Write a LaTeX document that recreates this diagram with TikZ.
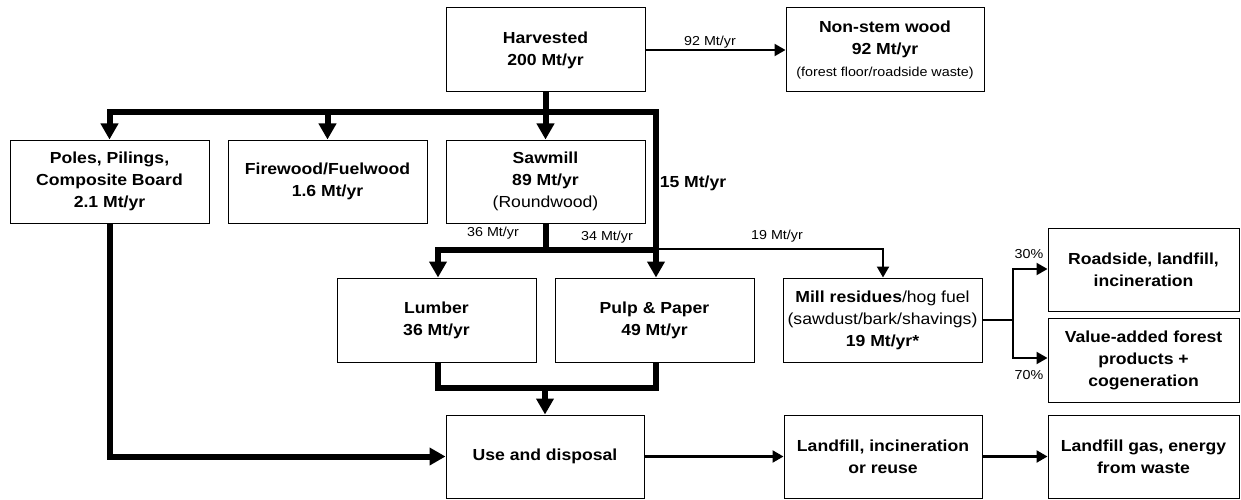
\documentclass[tikz,border=0pt]{standalone}
\usepackage{fontspec}
\setmainfont[FakeStretch=1.1]{Liberation Sans}
\usetikzlibrary{arrows.meta}
\newcommand\boxfont{\fontsize{16}{22}\selectfont\bfseries}
\newcommand\labfont{\fontsize{13}{16}\selectfont}
\tikzset{
  box/.style={draw, line width=1pt, inner sep=0pt, align=center, font=\boxfont},
  lab/.style={font=\labfont, inner sep=0pt},
  thickline/.style={line width=6pt, line join=miter},
  thickarrow/.style={thickline, -{Triangle[length=16pt,width=17pt]}},
  thinline/.style={line width=2.2pt, line join=miter},
  thinarrow/.style={thinline, -{Triangle[length=11pt,width=12pt]}},
}
\begin{document}
\begin{tikzpicture}[x=1pt, y=-1pt]
\useasboundingbox (0,0) rectangle (1241,500);

% boxes
\node[box, minimum width=199pt, minimum height=84pt] (harv) at (545.5,50) {Harvested\\200 Mt/yr};
\node[box, minimum width=198pt, minimum height=84pt] (nonstem) at (885,50)
  {Non-stem wood\\92 Mt/yr\\{\mdseries\fontsize{13}{16}\selectfont (forest floor/roadside waste)}};
\node[box, minimum width=199pt, minimum height=83pt] (poles) at (109.5,181.5) {Poles, Pilings,\\Composite Board\\2.1 Mt/yr};
\node[box, minimum width=199pt, minimum height=83pt] (fire) at (327.5,181.5) {Firewood/Fuelwood\\1.6 Mt/yr};
\node[box, minimum width=199pt, minimum height=83pt] (saw) at (545.5,181.5) {Sawmill\\89 Mt/yr\\{\mdseries (Roundwood)}};
\node[box, minimum width=199pt, minimum height=84pt] (lumber) at (436.5,320) {Lumber\\36 Mt/yr};
\node[box, minimum width=199pt, minimum height=84pt] (pulp) at (654.5,320) {Pulp \& Paper\\49 Mt/yr};
\node[box, minimum width=199pt, minimum height=84pt] (mill) at (882.5,320)
  {Mill residues{\mdseries/hog fuel}\\{\mdseries (sawdust/bark/shavings)}\\19 Mt/yr*};
\node[box, minimum width=191pt, minimum height=83pt] (road) at (1143.5,269.5) {Roadside, landfill,\\incineration};
\node[box, minimum width=191pt, minimum height=84pt] (val) at (1143.5,360) {Value-added forest\\products +\\cogeneration};
\node[box, minimum width=198pt, minimum height=83pt] (use) at (545,456.5) {Use and disposal};
\node[box, minimum width=198pt, minimum height=83pt] (land) at (883,456.5) {Landfill, incineration\\or reuse};
\node[box, minimum width=191pt, minimum height=83pt] (gas) at (1143.5,456.5) {Landfill gas, energy\\from waste};

% junction points
\coordinate (barL) at (109.5,112);
\coordinate (barR) at (656,112);
\coordinate (bar2L) at (438,250);
\coordinate (t19) at (883,249);
\coordinate (bar3L) at (438,388);
\coordinate (bar3R) at (656,388);
\coordinate (br) at (1013,320);
\coordinate (brT) at (1013,269);
\coordinate (brB) at (1013,358);

% harvested wood split
\draw[thinarrow] (harv.east) -- (nonstem.west);
\draw[thickline] (harv.south) -- (harv.south |- barL);
\draw[thickarrow] (barR) -- (barL) -- (poles.north);
\draw[thickarrow] (barL) -- (barR) -- (barR |- pulp.north);
\draw[thickarrow] (fire.north |- barL) -- (fire.north);
\draw[thickarrow] (saw.north |- barL) -- (saw.north);

% sawmill outputs
\draw[thickline] (saw.south) -- (saw.south |- bar2L);
\draw[thickarrow] (barR |- bar2L) -- (bar2L) -- (bar2L |- lumber.north);
\draw[thinarrow] (barR |- t19) -- (t19) -- (t19 |- mill.north);

% products to use and disposal
\draw[thickline] (bar3L |- lumber.south) -- (bar3L) -- (bar3R) -- (bar3R |- pulp.south);
\draw[thickarrow] (use.north |- bar3L) -- (use.north);
\draw[thickarrow] (poles.south) -- (poles.south |- use.west) -- (use.west);
\draw[thinarrow] (use.east) -- (land.west);
\draw[thinarrow] (land.east) -- (gas.west);

% mill residue split
\draw[thinline] (mill.east |- br) -- (br);
\draw[thinarrow] (br) -- (brT) -- (brT -| road.west);
\draw[thinarrow] (br) -- (brB) -- (brB -| val.west);

% flow labels
\node[lab] (l92) at (710,42) {92 Mt/yr};
\node[lab, font=\boxfont] (l15) at (693,183) {15 Mt/yr};
\node[lab] (l36) at (493,233) {36 Mt/yr};
\node[lab] (l34) at (607,237) {34 Mt/yr};
\node[lab] (l19) at (777,236) {19 Mt/yr};
\node[lab] (l30) at (1029,254) {30\%};
\node[lab] (l70) at (1029,375) {70\%};
\end{tikzpicture}
\end{document}
